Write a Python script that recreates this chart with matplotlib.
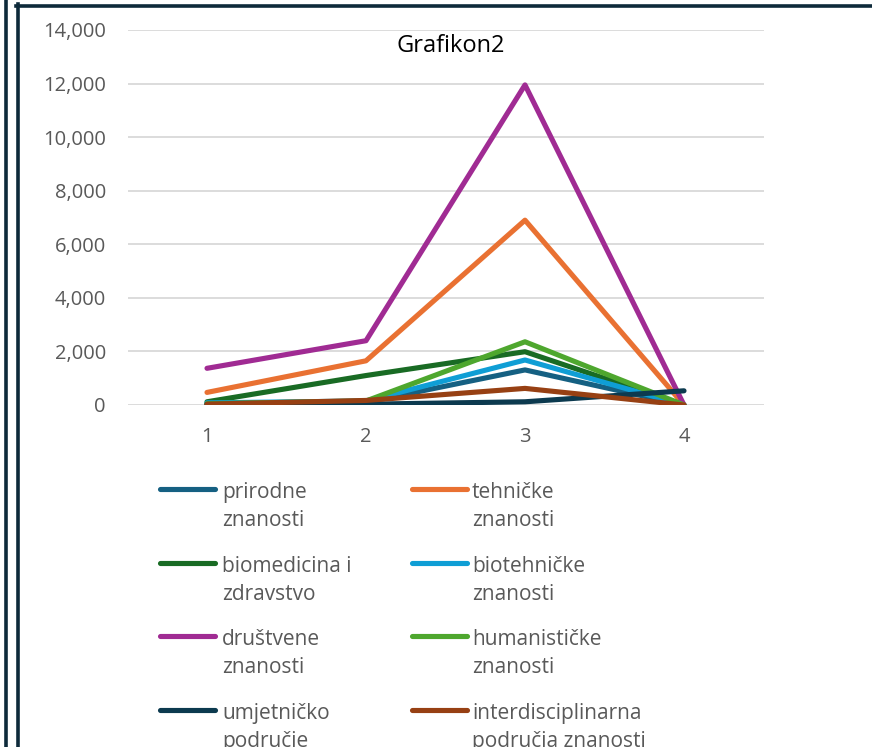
import matplotlib
matplotlib.use("Agg")
import matplotlib.pyplot as plt
from matplotlib.lines import Line2D

plt.rcParams['font.family'] = ['Open Sans', 'DejaVu Sans']

categories = [1, 2, 3, 4]
series_names = ["prirodne\nznanosti", "tehničke\nznanosti", "biomedicina i\nzdravstvo",
                "biotehničke\nznanosti", "društvene\nznanosti", "humanističke\nznanosti",
                "umjetničko\npodručje", "interdisciplinarna\npodručja znanosti"]
prirodne = [50, 100, 1310, 0]
tehnicke = [470, 1650, 6900, 0]
biomedicina = [120, 1100, 1990, 0]
biotehnicke = [80, 150, 1680, 0]
drustvene = [1370, 2400, 11950, 0]
humanisticke = [50, 150, 2360, 0]
umjetnicko = [20, 30, 120, 530]
interdisciplinarna = [30, 170, 620, 0]
all_values = [prirodne, tehnicke, biomedicina, biotehnicke, drustvene,
              humanisticke, umjetnicko, interdisciplinarna]
colors = ["#156082", "#E97132", "#196B24", "#0F9ED5", "#A02B93", "#4EA72E",
          "#0C3A4F", "#974013"]
yticks = [0, 2000, 4000, 6000, 8000, 10000, 12000, 14000]

W, H = 872, 747
fig = plt.figure(figsize=(W/100, H/100), dpi=100)
ax = fig.add_axes([127.5/W, 1-405/H, (763.5-127.5)/W, (405-30)/H])

for name, vals, c in zip(series_names, all_values, colors):
    ax.plot(categories, vals, color=c, lw=3.7, solid_capstyle='round',
            solid_joinstyle='round', label=name)

ax.set_xlim(0.5, 4.5)
ax.set_ylim(0, 14000)
ax.set_yticks(yticks)
ax.set_yticklabels([f"{v:,}" for v in yticks])
ax.set_xticks(categories)
ax.grid(axis='y', color='#D9D9D9', lw=1.3)
ax.set_axisbelow(True)
for s in ax.spines.values():
    s.set_visible(False)
ax.tick_params(length=0, labelsize=14.5, labelcolor='#595959')
ax.tick_params(axis='y', pad=15.5)
ax.tick_params(axis='x', pad=16)

fig.text(451/W, 1-46/H, "Grafikon2", ha='center', va='center', fontsize=17, color='#000000')

# legend (Excel-style, row-wise, two columns)
col_handle_x = [160, 412]
col_text_x = [222, 472]
row_base = [498, 572, 645, 719]
line_gap = 28.3
for i, (name, c) in enumerate(zip(series_names, colors)):
    col = i % 2
    row = i // 2
    yb = row_base[row]
    hx0, hx1 = col_handle_x[col], col_handle_x[col] + 55
    fig.add_artist(Line2D([hx0/W, hx1/W], [1-(yb-9)/H, 1-(yb-9)/H], color=c, lw=3.7,
                          solid_capstyle='round', transform=fig.transFigure))
    for k, part in enumerate(name.split("\n")):
        fig.text(col_text_x[col]/W, 1-(yb + k*line_gap)/H, part, ha='left',
                 va='baseline', fontsize=15, color='#595959')

dark = '#0E2A3A'
fig.add_artist(Line2D([5.5/W, 5.5/W], [0, 1], color=dark, lw=2.6, transform=fig.transFigure))
fig.add_artist(Line2D([17.5/W, 17.5/W], [0, 1-4/H], color=dark, lw=2.6, transform=fig.transFigure))
fig.add_artist(Line2D([16/W, 1], [1-5.5/H, 1-5.5/H], color=dark, lw=2.6, transform=fig.transFigure))

fig.savefig("out.png", dpi=100)
